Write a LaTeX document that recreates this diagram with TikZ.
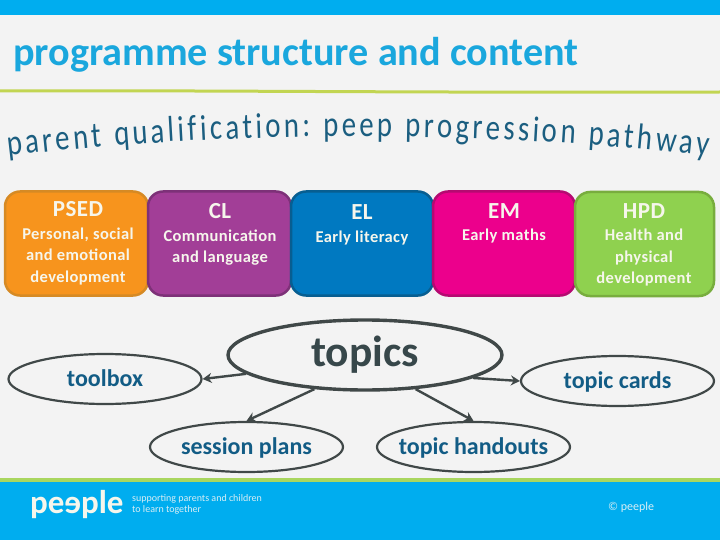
\documentclass[tikz,border=0pt]{standalone}
\usepackage{fontspec}
\setmainfont{Carlito}
\newfontfamily\subfont[FakeStretch=0.8]{Carlito}
\usetikzlibrary{shapes.geometric,arrows.meta,decorations.text}
\definecolor{bgc}{HTML}{F3F3F3}
\definecolor{topblue}{HTML}{00ADEF}
\definecolor{titlec}{HTML}{1AA7DD}
\definecolor{subc}{HTML}{1B5E80}
\definecolor{labc}{HTML}{125C85}
\definecolor{darkc}{HTML}{37474A}
\definecolor{strokec}{HTML}{404848}
\definecolor{linec}{HTML}{C2D552}
\definecolor{footc}{HTML}{A9D65F}
\definecolor{txtc}{HTML}{F6F6EC}
\definecolor{tagc}{HTML}{D8EEF5}
\definecolor{ofill}{HTML}{F7941D}\definecolor{oline}{HTML}{D68A24}
\definecolor{pfill}{HTML}{A23E97}\definecolor{pline}{HTML}{7D3178}
\definecolor{bfill}{HTML}{0079C1}\definecolor{bline}{HTML}{075E91}
\definecolor{mfill}{HTML}{EC008C}\definecolor{mline}{HTML}{B50A71}
\definecolor{gfill}{HTML}{8FD14F}\definecolor{gline}{HTML}{78AD3E}
\newcommand{\fs}[1]{\fontsize{#1}{#1}\selectfont}
\newcommand{\hd}[1]{{\fontsize{23}{25}\selectfont\addfontfeature{LetterSpace=2}#1}\\[1.5pt]}
\newcommand{\lowered}[1]{\raisebox{-2pt}[16pt][6pt]{#1}}
\tikzset{
  x=1pt,y=-1pt,
  areabox/.style={rounded corners=15pt,line width=2.5pt,minimum height=104pt,inner sep=0pt},
  arealabel/.style={text=txtc,align=center,inner sep=0pt,anchor=north,font=\fontsize{16.5}{21.3}\selectfont\bfseries\addfontfeature{LetterSpace=2.5}},
  smalloval/.style={ellipse,draw=strokec,line width=2.2pt,fill=bgc,inner ysep=0pt,inner xsep=-30pt,text=labc,font=\fs{24}\bfseries,minimum width=193pt,minimum height=50pt},
  bigoval/.style={ellipse,draw=strokec,line width=3.4pt,fill=bgc,inner sep=0pt,text=darkc,font=\fs{43.5}\bfseries,minimum width=274pt,minimum height=70pt},
  linkarrow/.style={draw=strokec,line width=2.4pt,-{Stealth[length=9pt,width=10pt]}}
}
\begin{document}
\begin{tikzpicture}
\useasboundingbox (0,0) rectangle (720,540);
\fill[bgc] (0,0) rectangle (720,540);
\fill[topblue] (0,0) rectangle (720,15);
\node[anchor=base west,inner sep=0pt,text=titlec,font=\fs{40.2}\bfseries] (title) at (13,66) {programme structure and content};
\draw[linec,line width=3pt] (0,91) .. controls (200,90) and (400,93) .. (720,92);
\path[decorate,decoration={text along path,text align={fit to path},
  text={|\subfont\fs{36}\color{subc}|parent qualification: peep progression pathway}}]
  (8,156) .. controls (230,130) and (480,130) .. (708,156);
% area boxes
\node[areabox,draw=oline,fill=ofill,minimum width=143pt] (psed) at (76.5,243.5) {};
\node[areabox,draw=pline,fill=pfill,minimum width=143pt] (cl) at (219.5,243.5) {};
\node[areabox,draw=bline,fill=bfill,minimum width=142pt] (el) at (362,243.5) {};
\node[areabox,draw=mline,fill=mfill,minimum width=142pt] (em) at (504,243.5) {};
\node[areabox,draw=gline,fill=gfill,minimum width=139pt] (hpd) at (644.5,244) {};
\node[arealabel] (psedt) at (78,201.5) {\hd{PSED}Personal, social\\and emotional\\development};
\node[arealabel] (clt) at (220,203.5) {\hd{CL}Communication\\and language};
\node[arealabel] (elt) at (362,204.5) {\hd{EL}Early literacy};
\node[arealabel] (emt) at (504,203) {\hd{EM}Early maths};
\node[arealabel] (hpdt) at (644,203) {\hd{HPD}Health and\\physical\\development};
% ovals
\node[bigoval] (topics) at (365,355) {\raisebox{2pt}{topics}};
\node[smalloval] (toolbox) at (105,379) {\lowered{toolbox}};
\node[smalloval] (session) at (246.5,447) {\lowered{session plans}};
\node[smalloval] (handouts) at (473.5,447) {\lowered{topic handouts}};
\node[smalloval] (cards) at (617.5,381) {\lowered{topic cards}};
\draw[linkarrow] (topics.189) -- (toolbox.east);
\draw[linkarrow] (topics.214) -- (session.north);
\draw[linkarrow] (topics.-12) -- (cards.west);
\draw[linkarrow] (topics.-34) -- (handouts.north);
% footer
\fill[topblue] (0,482) rectangle (720,540);
\draw[footc,line width=4pt] (0,480) -- (720,480);
\node[anchor=base west,inner sep=0pt,text=txtc,font=\fs{33}\bfseries] (logo) at (30,513) {pe\reflectbox{e}ple};
\node[anchor=north west,inner sep=0pt,text=tagc,align=left,font=\fontsize{10}{11.5}\selectfont] (tag) at (132,494) {supporting parents and children\\to learn together};
\node[anchor=west,inner sep=0pt,text=tagc,font=\fs{12}] (copy) at (608,507) {© peeple};
\end{tikzpicture}
\end{document}
